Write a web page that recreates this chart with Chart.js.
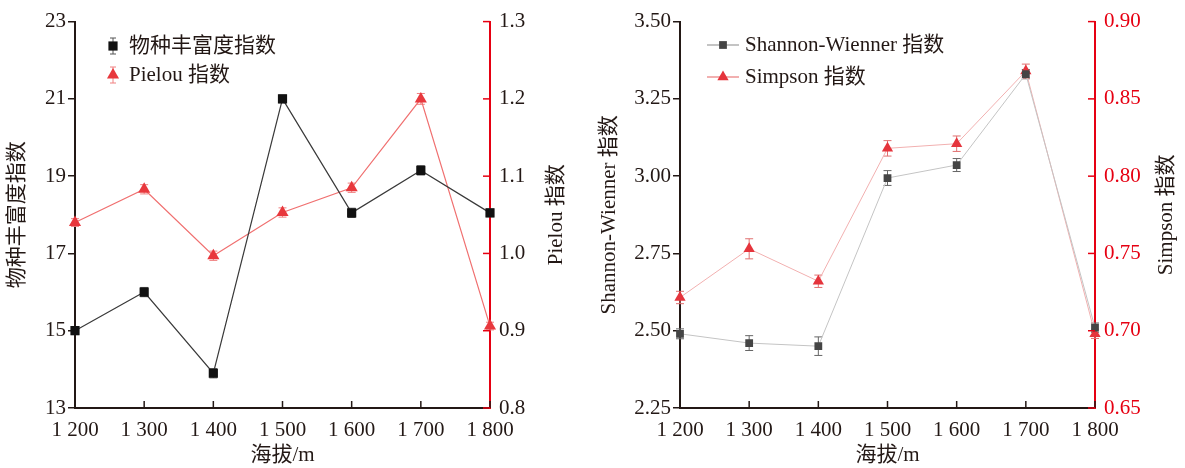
<!DOCTYPE html>
<html>
<head>
<meta charset="utf-8">
<script src="https://cdn.jsdelivr.net/npm/chart.js@4"></script>
<style>
  body { margin: 0; background: #fff; }
  .wrap { position: relative; width: 1185px; height: 468px; }
  .box { position: absolute; top: 0; height: 468px; }
</style>
</head>
<body>
<div class="wrap">
  <div class="box" style="left:0;width:592px"><canvas id="c1"></canvas></div>
  <div class="box" style="left:592px;width:593px"><canvas id="c2"></canvas></div>
</div>
<script>
// Data
const altitudes = [1200, 1300, 1400, 1500, 1600, 1700, 1800];
const richness = [15.0, 16.0, 13.9, 21.0, 18.05, 19.15, 18.05];
const richnessErr = [0.1, 0.12, 0.12, 0.1, 0.12, 0.12, 0.1];
const pielou = [1.04, 1.083, 0.997, 1.053, 1.085, 1.2, 0.906];
const pielouErr = [0.005, 0.006, 0.006, 0.006, 0.006, 0.007, 0.005];
const shannon = [2.49, 2.46, 2.45, 2.994, 3.036, 3.33, 2.51];
const shannonErr = [0.016, 0.024, 0.03, 0.024, 0.021, 0.015, 0.015];
const simpson = [0.7215, 0.753, 0.732, 0.818, 0.821, 0.868, 0.698];
const simpsonErr = [0.004, 0.0065, 0.004, 0.005, 0.005, 0.0045, 0.003];

const leftTicks = { min: 13, max: 23, step: 2 };
const pielouTicks = { min: 0.8, max: 1.3, step: 0.1 };
const shannonTicks = { min: 2.25, max: 3.5, step: 0.25 };
const simpsonTicks = { min: 0.65, max: 0.9, step: 0.05 };

const SERIF = "'Liberation Serif', 'Times New Roman', 'Noto Sans CJK SC', serif";
const INK = "#231815";
const RED = "#e60012";
const FS = 21;

Chart.defaults.font.family = SERIF;
Chart.defaults.font.size = FS;
Chart.defaults.color = INK;

const fmtAlt = (v) => String(v).replace(/^(\d)(\d{3})$/, "$1 $2");

// error bars, inward ticks, right title, legend
const extras = {
  id: "extras",
  beforeDatasetsDraw(chart, args, opts) {
    const ctx = chart.ctx;
    chart.data.datasets.forEach((ds, i) => {
      const meta = chart.getDatasetMeta(i);
      const ys = chart.scales[ds.yAxisID];
      ctx.save();
      ctx.strokeStyle = opts.errColor[i];
      ctx.lineWidth = 1;
      meta.data.forEach((pt, j) => {
        const v = ds.data[j], e = opts.err[i][j];
        const y1 = ys.getPixelForValue(v + e), y2 = ys.getPixelForValue(v - e);
        ctx.beginPath();
        ctx.moveTo(pt.x, y1); ctx.lineTo(pt.x, y2);
        ctx.moveTo(pt.x - 4, y1); ctx.lineTo(pt.x + 4, y1);
        ctx.moveTo(pt.x - 4, y2); ctx.lineTo(pt.x + 4, y2);
        ctx.stroke();
      });
      ctx.restore();
    });
  },
  afterDraw(chart, args, opts) {
    const ctx = chart.ctx;
    const xs = chart.scales.x, yr = chart.scales.y1;
    const area = chart.chartArea;
    ctx.save();
    // inward ticks on x axis
    ctx.strokeStyle = INK;
    ctx.lineWidth = 1.5;
    xs.ticks.forEach((t, i) => {
      const px = xs.getPixelForTick(i);
      ctx.beginPath();
      ctx.moveTo(px, area.bottom);
      ctx.lineTo(px, area.bottom - 7);
      ctx.stroke();
    });
    // inward ticks on right axis
    ctx.strokeStyle = RED;
    yr.ticks.forEach((t, i) => {
      const py = yr.getPixelForTick(i);
      ctx.beginPath();
      ctx.moveTo(area.right, py);
      ctx.lineTo(area.right - 7, py);
      ctx.stroke();
    });
    // right axis title, reading bottom to top
    ctx.fillStyle = INK;
    ctx.font = FS + "px " + SERIF;
    ctx.textAlign = "center";
    ctx.textBaseline = "middle";
    ctx.translate(opts.rightTitleX, (area.top + area.bottom) / 2);
    ctx.rotate(-Math.PI / 2);
    ctx.fillText(opts.rightTitle, 0, 0);
    ctx.restore();

    // legend
    ctx.save();
    ctx.font = FS + "px " + SERIF;
    ctx.textBaseline = "middle";
    ctx.textAlign = "left";
    chart.data.datasets.forEach((ds, i) => {
      const lg = opts.legend;
      const y = lg.y[i];
      if (lg.line) {
        ctx.strokeStyle = ds.borderColor;
        ctx.lineWidth = 2;
        ctx.beginPath();
        ctx.moveTo(lg.x - 16, y);
        ctx.lineTo(lg.x + 16, y);
        ctx.stroke();
      } else {
        ctx.strokeStyle = opts.errColor[i];
        ctx.lineWidth = 1;
        ctx.beginPath();
        ctx.moveTo(lg.x - 3, y - 8); ctx.lineTo(lg.x + 3, y - 8);
        ctx.moveTo(lg.x, y - 8); ctx.lineTo(lg.x, y + 8);
        ctx.moveTo(lg.x - 3, y + 8); ctx.lineTo(lg.x + 3, y + 8);
        ctx.stroke();
      }
      ctx.fillStyle = ds.pointBackgroundColor;
      ctx.strokeStyle = ds.pointBackgroundColor;
      Chart.helpers.drawPoint(ctx, {
        pointStyle: ds.pointStyle,
        radius: ds.pointRadius,
        rotation: 0,
        borderWidth: 0,
      }, lg.x, y);
      ctx.fillStyle = INK;
      ctx.fillText(ds.label, lg.textX, y);
    });
    ctx.restore();
  },
};

function makeChart(id, cfg) {
  const ctx = document.getElementById(id).getContext("2d");
  return new Chart(ctx, {
    type: "line",
    data: {
      labels: altitudes,
      datasets: cfg.datasets,
    },
    options: {
      responsive: true,
      maintainAspectRatio: false,
      animation: false,
      layout: { padding: { top: 20, left: 0, right: 0, bottom: 0 } },
      plugins: {
        legend: { display: false },
        tooltip: { enabled: false },
        extras: cfg.extras,
      },
      scales: {
        x: {
          type: "category",
          offset: false,
          grid: { drawOnChartArea: false, drawTicks: false },
          border: { color: INK, width: 2 },
          ticks: { padding: 10, maxRotation: 0, autoSkip: false, callback: (v, i) => fmtAlt(altitudes[i]) },
          title: { display: true, text: "海拔/m", padding: 0 },
          afterFit: (s) => { s.height = 60; },
        },
        y: {
          position: "left",
          min: cfg.left.min,
          max: cfg.left.max,
          grid: { drawOnChartArea: false, tickLength: 7, color: INK, lineWidth: 1.5 },
          border: { color: INK, width: 2 },
          ticks: { stepSize: cfg.left.step, padding: 2, callback: cfg.left.fmt },
          title: { display: true, text: cfg.left.title, padding: { top: 5, bottom: 0 } },
          afterFit: (s) => { s.width = cfg.left.width; },
        },
        y1: {
          position: "right",
          min: cfg.right.min,
          max: cfg.right.max,
          grid: { drawOnChartArea: false, drawTicks: false },
          border: { color: RED, width: 2 },
          ticks: { stepSize: cfg.right.step, padding: 9, color: cfg.right.color, callback: cfg.right.fmt },
          afterFit: (s) => { s.width = cfg.right.width; },
        },
      },
    },
    plugins: [extras],
  });
}

makeChart("c1", {
  left: { ...leftTicks, title: "物种丰富度指数", width: 75, fmt: (v) => v },
  right: { ...pielouTicks, width: 102, color: INK, fmt: (v) => Number(v).toFixed(1) },
  datasets: [
    {
      label: "物种丰富度指数",
      data: richness,
      yAxisID: "y",
      borderColor: "#3a3a3a",
      borderWidth: 1.2,
      pointStyle: "rect",
      pointRadius: 6.5,
      pointBackgroundColor: "#111111",
      pointBorderWidth: 0,
    },
    {
      label: "Pielou 指数",
      data: pielou,
      yAxisID: "y1",
      borderColor: "#f07070",
      borderWidth: 1.2,
      pointStyle: "triangle",
      pointRadius: 7,
      pointBackgroundColor: "#e8383d",
      pointBorderWidth: 0,
    },
  ],
  extras: {
    err: [richnessErr, pielouErr],
    errColor: ["#555555", "#f08080"],
    rightTitle: "Pielou 指数",
    rightTitleX: 556,
    legend: { x: 113, textX: 129, y: [46, 75], line: false },
  },
});

makeChart("c2", {
  left: { ...shannonTicks, title: "Shannon-Wienner 指数", width: 88, fmt: (v) => Number(v).toFixed(2) },
  right: { ...simpsonTicks, width: 90, color: RED, fmt: (v) => Number(v).toFixed(2) },
  datasets: [
    {
      label: "Shannon-Wienner 指数",
      data: shannon,
      yAxisID: "y",
      borderColor: "#c4c4c4",
      borderWidth: 1,
      pointStyle: "rect",
      pointRadius: 5.5,
      pointBackgroundColor: "#454545",
      pointBorderWidth: 0,
    },
    {
      label: "Simpson 指数",
      data: simpson,
      yAxisID: "y1",
      borderColor: "#f2b0b0",
      borderWidth: 1,
      pointStyle: "triangle",
      pointRadius: 6.5,
      pointBackgroundColor: "#e5343c",
      pointBorderWidth: 0,
    },
  ],
  extras: {
    err: [shannonErr, simpsonErr],
    errColor: ["#666666", "#e07070"],
    rightTitle: "Simpson 指数",
    rightTitleX: 574,
    legend: { x: 131, textX: 153, y: [45, 77], line: true },
  },
});
</script>
</body>
</html>
